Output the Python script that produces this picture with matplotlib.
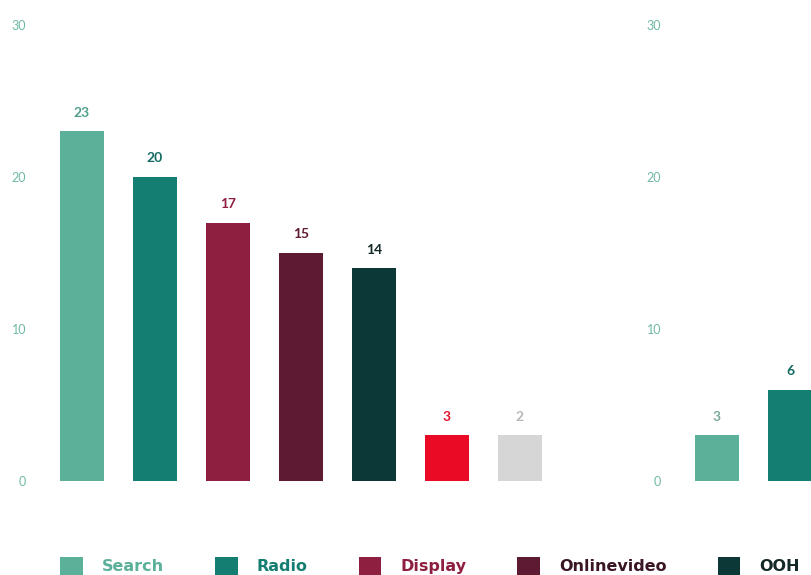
import matplotlib
matplotlib.use("Agg")
import matplotlib.pyplot as plt
from matplotlib.patches import Patch

# ---- data ----
left_categories = ["Search", "Radio", "Display", "Onlinevideo", "OOH", "Other1", "Other2"]
left_values = [23, 20, 17, 15, 14, 3, 3]
left_labels = ["23", "20", "17", "15", "14", "3", "2"]
right_categories = ["Search", "Radio"]
right_values = [3, 6]
right_labels = ["3", "6"]
y_ticks = [0, 10, 20, 30]
legend_names = ["Search", "Radio", "Display", "Onlinevideo", "OOH"]

# ---- styles ----
bar_colors = ["#5bb09a", "#157e72", "#8e1f40", "#5c1b33", "#0d3838", "#ea0a26", "#d6d6d6"]
label_colors = ["#4f9f8c", "#146b62", "#8e1f40", "#5c1b33", "#152828", "#e3102c", "#b8b8b8"]
tick_color = "#6fb8a6"
FONT = ["Lato", "DejaVu Sans"]
LEG_FONT = ["DejaVu Sans"]

W, H = 811, 575
fig = plt.figure(figsize=(W / 100, H / 100), dpi=100)
fig.patch.set_facecolor("white")

y0_px, y30_px = 481, 25
spacing = 73.0
bar_w = 44 / spacing


def make_axes(left_px, first_center_px, width_px):
    ax = fig.add_axes([left_px / W, (H - y0_px) / H, width_px / W, (y0_px - y30_px) / H])
    xmin = -(first_center_px - left_px) / spacing
    ax.set_xlim(xmin, xmin + width_px / spacing)
    ax.set_ylim(0, 30)
    for s in ax.spines.values():
        s.set_visible(False)
    ax.set_xticks([])
    ax.set_yticks(y_ticks)
    ax.set_yticklabels([str(t) for t in y_ticks], fontsize=9, color=tick_color, family=FONT)
    ax.tick_params(axis="y", length=0, pad=10)
    ax.set_facecolor("none")
    return ax


axL = make_axes(40, 82, 560)
xs = list(range(len(left_values)))
axL.bar(xs, left_values, width=bar_w, color=bar_colors[:len(left_values)])
for x, v, lab, c in zip(xs, left_values, left_labels, label_colors):
    axL.annotate(lab, (x, v), xytext=(0, 9), textcoords="offset points",
                 ha="center", va="bottom", fontsize=10, color=c,
                 fontweight="bold", family=FONT)

axR = make_axes(675, 717, 560)
xr = list(range(len(right_values)))
axR.bar(xr, right_values, width=bar_w, color=bar_colors[:len(right_values)])
right_label_colors = ["#7aa89c", "#146b62"]
for x, v, lab, c in zip(xr, right_values, right_labels, right_label_colors):
    axR.annotate(lab, (x, v), xytext=(0, 9), textcoords="offset points",
                 ha="center", va="bottom", fontsize=10, color=c,
                 fontweight="bold", family=FONT)

handles = [Patch(facecolor=bar_colors[i], edgecolor="none") for i in range(len(legend_names))]
leg = fig.legend(handles, legend_names, loc="center left",
                 bbox_to_anchor=(54 / W, (H - 566) / H), ncol=5, frameon=False,
                 handlelength=1.4, handleheight=1.4, handletextpad=1.2,
                 columnspacing=3.2, borderaxespad=0,
                 prop={"family": LEG_FONT, "weight": "bold", "size": 11.5},
                 labelcolor=["#5bb09a", "#157e72", "#8e1f40", "#3a1524", "#152828"])

fig.savefig("out.png", dpi=100)
